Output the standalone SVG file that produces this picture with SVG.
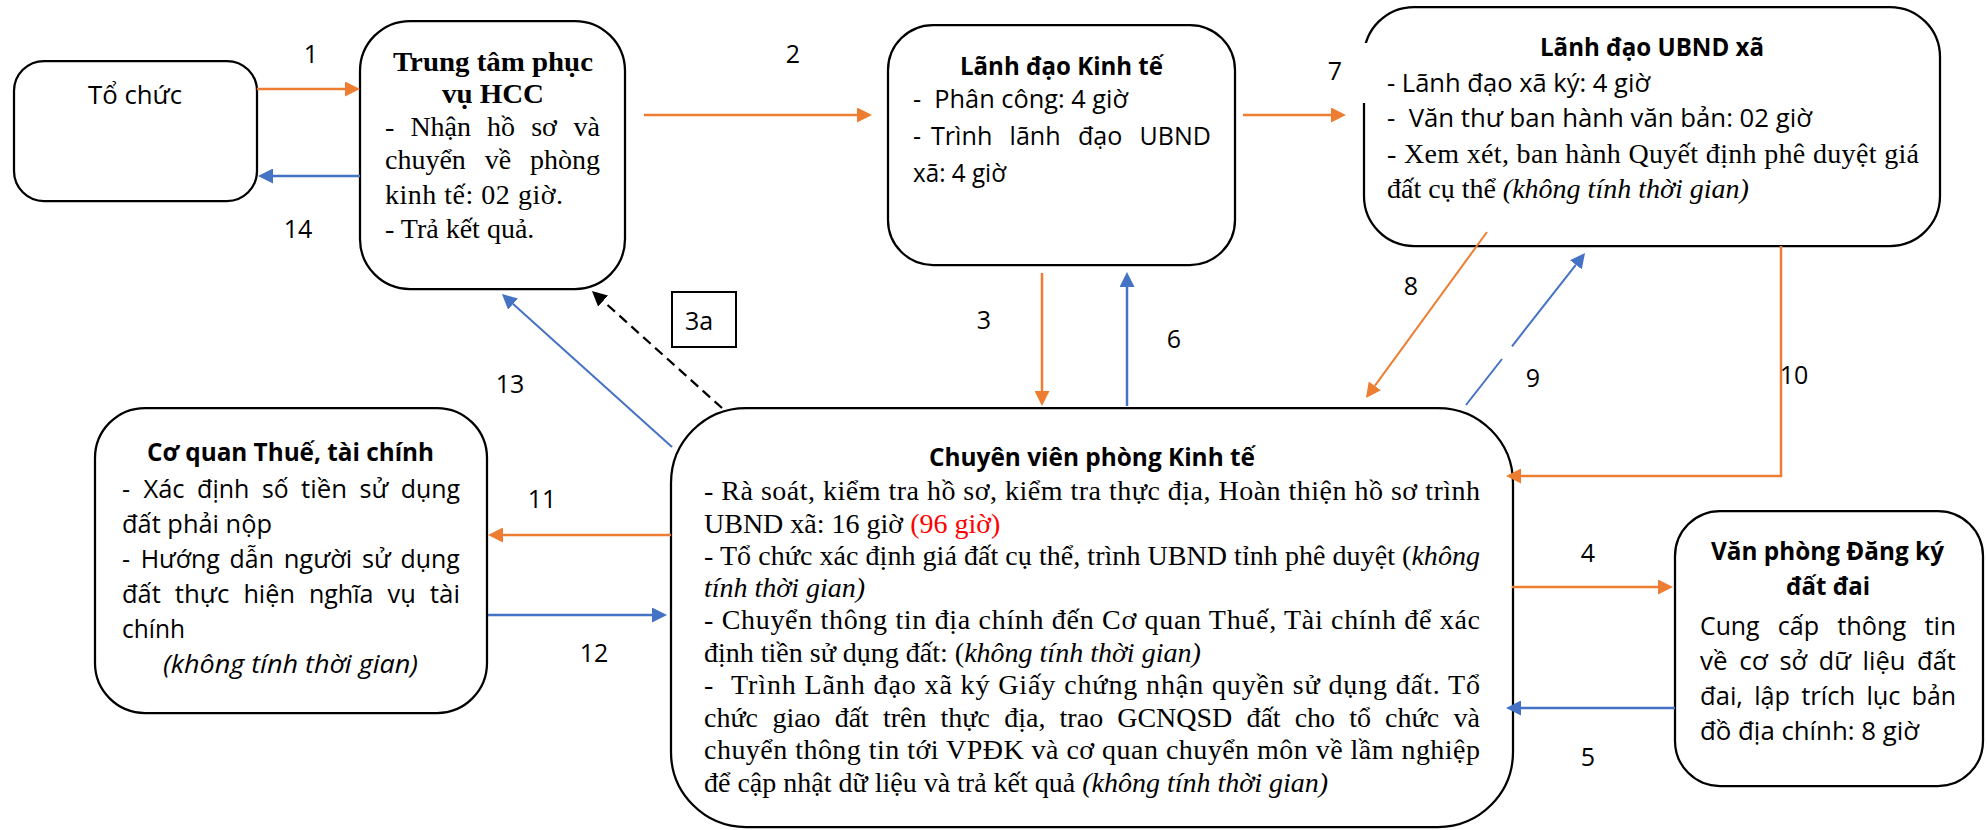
<svg xmlns="http://www.w3.org/2000/svg" width="1987" height="830" viewBox="0 0 1987 830">
<style>
.box{fill:#fff;stroke:#000;stroke-width:2.25}
.c{font-family:"Open Sans","Noto Sans",sans-serif;font-size:25px;fill:#000}
.cb{font-family:"Open Sans","Noto Sans",sans-serif;font-size:25px;font-weight:bold;fill:#000}
.t{font-family:"Liberation Serif","Times New Roman",serif;font-size:28px;fill:#000}
.tb{font-family:"Liberation Serif","Times New Roman",serif;font-size:28px;font-weight:bold;fill:#000}
.it{font-style:italic}
.red{fill:#FF0000}
.lbl{font-family:"Open Sans","Noto Sans",sans-serif;font-size:25px;fill:#000;text-anchor:middle}
.o{stroke:#ED7D31;stroke-width:2.5;fill:none}
.b{stroke:#4472C4;stroke-width:2.5;fill:none}
.k{stroke:#000;stroke-width:2.25;fill:none;stroke-dasharray:10 6}
</style>
<defs>
<marker id="ao" markerUnits="userSpaceOnUse" markerWidth="15" markerHeight="15" viewBox="0 0 15 15" refX="0" refY="7.5" orient="auto"><path d="M0,0 L15,7.5 L0,15 z" fill="#ED7D31"/></marker>
<marker id="ab" markerUnits="userSpaceOnUse" markerWidth="15" markerHeight="15" viewBox="0 0 15 15" refX="0" refY="7.5" orient="auto"><path d="M0,0 L15,7.5 L0,15 z" fill="#4472C4"/></marker>
<marker id="ak" markerUnits="userSpaceOnUse" markerWidth="15" markerHeight="15" viewBox="0 0 15 15" refX="0" refY="7.5" orient="auto"><path d="M0,0 L15,7.5 L0,15 z" fill="#000"/></marker>
</defs>
<rect width="1987" height="830" fill="#fff"/>

<g id="to-chuc">
<rect class="box" x="14" y="61" width="243" height="140" rx="30"/>
<text class="c" x="88" y="104" textLength="94" lengthAdjust="spacingAndGlyphs">Tổ chức</text>
</g>

<g id="trung-tam">
<rect class="box" x="360" y="21" width="265" height="268" rx="50"/>
<text class="tb" x="393" y="71" textLength="200" lengthAdjust="spacingAndGlyphs">Trung tâm phục</text>
<text class="tb" x="442" y="103" textLength="102" lengthAdjust="spacingAndGlyphs">vụ HCC</text>
<text class="t" x="385" y="136">-</text>
<text class="t" x="410.4" y="136">Nhận</text>
<text class="t" x="487.1" y="136">hồ</text>
<text class="t" x="531.2" y="136">sơ</text>
<text class="t" x="573.6" y="136">và</text>
<text class="t" x="385" y="169">chuyển</text>
<text class="t" x="484.7" y="169">về</text>
<text class="t" x="530" y="169">phòng</text>
<text class="t" x="385" y="204" textLength="178" lengthAdjust="spacing">kinh tế: 02 giờ.</text>
<text class="t" x="385" y="238">- Trả kết quả.</text>
</g>

<g id="lanh-dao-kinh-te">
<rect class="box" x="888" y="25" width="347" height="240" rx="45"/>
<text class="cb" x="960" y="75" textLength="203" lengthAdjust="spacingAndGlyphs">Lãnh đạo Kinh tế</text>
<text class="c" x="913" y="108" textLength="215" lengthAdjust="spacingAndGlyphs">-&#160; Phân công: 4 giờ</text>
<text class="c" x="913" y="145">-</text>
<text class="c" x="931" y="145" textLength="61.3" lengthAdjust="spacingAndGlyphs">Trình</text>
<text class="c" x="1009.6" y="145" textLength="51" lengthAdjust="spacingAndGlyphs">lãnh</text>
<text class="c" x="1077.9" y="145" textLength="44.4" lengthAdjust="spacingAndGlyphs">đạo</text>
<text class="c" x="1139.6" y="145" textLength="71.3" lengthAdjust="spacingAndGlyphs">UBND</text>
<text class="c" x="913" y="182" textLength="93" lengthAdjust="spacingAndGlyphs">xã: 4 giờ</text>
</g>

<g id="lanh-dao-ubnd">
<rect class="box" x="1364" y="7" width="576" height="239" rx="50"/>
<rect x="1360" y="43" width="8" height="60" fill="#fff"/>
<text class="cb" x="1540" y="56" textLength="224" lengthAdjust="spacingAndGlyphs">Lãnh đạo UBND xã</text>
<text class="c" x="1387" y="92" textLength="263" lengthAdjust="spacingAndGlyphs">- Lãnh đạo xã ký: 4 giờ</text>
<text class="c" x="1387" y="127" textLength="425" lengthAdjust="spacingAndGlyphs">-&#160; Văn thư ban hành văn bản: 02 giờ</text>
<text class="t" x="1387" y="163" textLength="532" lengthAdjust="spacing">- Xem xét, ban hành Quyết định phê duyệt giá</text>
<text class="t" x="1387" y="198">đất cụ thể <tspan class="it">(không tính thời gian)</tspan></text>
</g>

<g id="co-quan-thue">
<rect class="box" x="95" y="408" width="392" height="305" rx="50"/>
<text class="cb" x="147" y="461" textLength="287" lengthAdjust="spacingAndGlyphs">Cơ quan Thuế, tài chính</text>
<text class="c" x="122" y="498">-</text>
<text class="c" x="143.4" y="498" textLength="41.2" lengthAdjust="spacingAndGlyphs">Xác</text>
<text class="c" x="197.1" y="498" textLength="52.3" lengthAdjust="spacingAndGlyphs">định</text>
<text class="c" x="261.9" y="498" textLength="26.6" lengthAdjust="spacingAndGlyphs">số</text>
<text class="c" x="301" y="498" textLength="46" lengthAdjust="spacingAndGlyphs">tiền</text>
<text class="c" x="359.5" y="498" textLength="28.7" lengthAdjust="spacingAndGlyphs">sử</text>
<text class="c" x="400.7" y="498" textLength="59.3" lengthAdjust="spacingAndGlyphs">dụng</text>
<text class="c" x="122" y="533" textLength="150" lengthAdjust="spacingAndGlyphs">đất phải nộp</text>
<text class="c" x="122" y="568">-</text>
<text class="c" x="140.7" y="568" textLength="79.1" lengthAdjust="spacingAndGlyphs">Hướng</text>
<text class="c" x="229.6" y="568" textLength="44.3" lengthAdjust="spacingAndGlyphs">dẫn</text>
<text class="c" x="283.7" y="568" textLength="68.6" lengthAdjust="spacingAndGlyphs">người</text>
<text class="c" x="362.1" y="568" textLength="28.7" lengthAdjust="spacingAndGlyphs">sử</text>
<text class="c" x="400.6" y="568" textLength="59.3" lengthAdjust="spacingAndGlyphs">dụng</text>
<text class="c" x="122" y="603" textLength="38.8" lengthAdjust="spacingAndGlyphs">đất</text>
<text class="c" x="174.8" y="603" textLength="54.6" lengthAdjust="spacingAndGlyphs">thực</text>
<text class="c" x="243.4" y="603" textLength="51.5" lengthAdjust="spacingAndGlyphs">hiện</text>
<text class="c" x="308.9" y="603" textLength="64.6" lengthAdjust="spacingAndGlyphs">nghĩa</text>
<text class="c" x="387.5" y="603" textLength="28.3" lengthAdjust="spacingAndGlyphs">vụ</text>
<text class="c" x="429.8" y="603" textLength="30.2" lengthAdjust="spacingAndGlyphs">tài</text>
<text class="c" x="122" y="638" textLength="63" lengthAdjust="spacingAndGlyphs">chính</text>
<text class="c it" x="163" y="673" textLength="255" lengthAdjust="spacingAndGlyphs">(không tính thời gian)</text>
</g>

<g id="chuyen-vien">
<rect class="box" x="671" y="408" width="842" height="419" rx="75"/>
<text class="cb" x="929" y="466" textLength="326" lengthAdjust="spacingAndGlyphs">Chuyên viên phòng Kinh tế</text>
<text class="t" x="704" y="500" textLength="776" lengthAdjust="spacing">- Rà soát, kiểm tra hồ sơ, kiểm tra thực địa, Hoàn thiện hồ sơ trình</text>
<text class="t" x="704" y="533">UBND xã: 16 giờ <tspan class="red">(96 giờ)</tspan></text>
<text class="t" x="704" y="565" textLength="776" lengthAdjust="spacing">- Tổ chức xác định giá đất cụ thể, trình UBND tỉnh phê duyệt (<tspan class="it">không</tspan></text>
<text class="t it" x="704" y="597">tính thời gian)</text>
<text class="t" x="704" y="629" textLength="776" lengthAdjust="spacing">- Chuyển thông tin địa chính đến Cơ quan Thuế, Tài chính để xác</text>
<text class="t" x="704" y="662">định tiền sử dụng đất: (<tspan class="it">không tính thời gian)</tspan></text>
<text class="t" x="704" y="694">-</text>
<text class="t" x="731" y="694" textLength="749" lengthAdjust="spacing">Trình Lãnh đạo xã ký Giấy chứng nhận quyền sử dụng đất. Tổ</text>
<text class="t" x="704" y="727">chức</text>
<text class="t" x="772.4" y="727">giao</text>
<text class="t" x="834.7" y="727">đất</text>
<text class="t" x="883" y="727">trên</text>
<text class="t" x="940.6" y="727">thực</text>
<text class="t" x="1004.3" y="727">địa,</text>
<text class="t" x="1059.6" y="727">trao</text>
<text class="t" x="1117.2" y="727">GCNQSD</text>
<text class="t" x="1246.4" y="727">đất</text>
<text class="t" x="1294.7" y="727">cho</text>
<text class="t" x="1349.2" y="727">tổ</text>
<text class="t" x="1385.1" y="727">chức</text>
<text class="t" x="1453.5" y="727">và</text>
<text class="t" x="704" y="759" textLength="776" lengthAdjust="spacing">chuyển thông tin tới VPĐK và cơ quan chuyển môn về lầm nghiệp</text>
<text class="t" x="704" y="792">để cập nhật dữ liệu và trả kết quả <tspan class="it">(không tính thời gian)</tspan></text>
</g>

<g id="van-phong-dang-ky">
<rect class="box" x="1675" y="511" width="308" height="275" rx="45"/>
<text class="cb" x="1711" y="560" textLength="233" lengthAdjust="spacingAndGlyphs">Văn phòng Đăng ký</text>
<text class="cb" x="1786" y="595" textLength="84" lengthAdjust="spacingAndGlyphs">đất đai</text>
<text class="c" x="1700" y="635" textLength="59.6" lengthAdjust="spacingAndGlyphs">Cung</text>
<text class="c" x="1777.7" y="635" textLength="41.4" lengthAdjust="spacingAndGlyphs">cấp</text>
<text class="c" x="1837.2" y="635" textLength="69.1" lengthAdjust="spacingAndGlyphs">thông</text>
<text class="c" x="1924.4" y="635" textLength="31.6" lengthAdjust="spacingAndGlyphs">tin</text>
<text class="c" x="1700" y="670" textLength="27.6" lengthAdjust="spacingAndGlyphs">về</text>
<text class="c" x="1739.3" y="670" textLength="28.5" lengthAdjust="spacingAndGlyphs">cơ</text>
<text class="c" x="1779.5" y="670" textLength="27.6" lengthAdjust="spacingAndGlyphs">sở</text>
<text class="c" x="1818.8" y="670" textLength="32" lengthAdjust="spacingAndGlyphs">dữ</text>
<text class="c" x="1862.5" y="670" textLength="42.9" lengthAdjust="spacingAndGlyphs">liệu</text>
<text class="c" x="1917.1" y="670" textLength="38.8" lengthAdjust="spacingAndGlyphs">đất</text>
<text class="c" x="1700" y="705" textLength="43" lengthAdjust="spacingAndGlyphs">đai,</text>
<text class="c" x="1754.2" y="705" textLength="35.8" lengthAdjust="spacingAndGlyphs">lập</text>
<text class="c" x="1801.2" y="705" textLength="54" lengthAdjust="spacingAndGlyphs">trích</text>
<text class="c" x="1866.4" y="705" textLength="34.1" lengthAdjust="spacingAndGlyphs">lục</text>
<text class="c" x="1911.7" y="705" textLength="44.3" lengthAdjust="spacingAndGlyphs">bản</text>
<text class="c" x="1700" y="740" textLength="219" lengthAdjust="spacingAndGlyphs">đồ địa chính: 8 giờ</text>
</g>

<g id="connectors">
<line class="o" x1="257" y1="89" x2="345" y2="89" marker-end="url(#ao)"/>
<line class="b" x1="360" y1="176" x2="273" y2="176" marker-end="url(#ab)"/>
<line class="o" x1="644" y1="115" x2="857" y2="115" marker-end="url(#ao)"/>
<line class="o" x1="1243" y1="115" x2="1331" y2="115" marker-end="url(#ao)"/>
<line class="o" x1="1042" y1="273" x2="1042" y2="391" marker-end="url(#ao)"/>
<line class="b" x1="1127" y1="406" x2="1127" y2="287" marker-end="url(#ab)"/>
<line class="o" style="stroke-width:2" x1="1487" y1="232" x2="1374.8" y2="385.9" marker-end="url(#ao)"/>
<line class="b" style="stroke-width:2" x1="1466" y1="405" x2="1502" y2="359"/>
<line class="b" style="stroke-width:2" x1="1512" y1="346.3" x2="1575.8" y2="264.8" marker-end="url(#ab)"/>
<polyline class="o" points="1781,246 1781,476 1521,476" marker-end="url(#ao)"/>
<line class="o" x1="1512" y1="587" x2="1658" y2="587" marker-end="url(#ao)"/>
<line class="b" x1="1675" y1="708" x2="1521" y2="708" marker-end="url(#ab)"/>
<line class="o" x1="671" y1="535" x2="503" y2="535" marker-end="url(#ao)"/>
<line class="b" x1="488" y1="615" x2="652" y2="615" marker-end="url(#ab)"/>
<line class="b" style="stroke-width:2" x1="672" y1="447" x2="513.1" y2="304" marker-end="url(#ab)"/>
<line class="k" x1="722" y1="408" x2="603.1" y2="301" marker-end="url(#ak)"/>
<rect x="672" y="292" width="64" height="55" fill="#fff" stroke="#000" stroke-width="2"/>
<text class="lbl" x="699" y="330">3a</text>
<text class="lbl" x="311" y="63">1</text>
<text class="lbl" x="793" y="63">2</text>
<text class="lbl" x="1335" y="80">7</text>
<text class="lbl" x="298" y="238">14</text>
<text class="lbl" x="984" y="329">3</text>
<text class="lbl" x="1174" y="348">6</text>
<text class="lbl" x="1411" y="295">8</text>
<text class="lbl" x="1533" y="387">9</text>
<text class="lbl" x="1794" y="384">10</text>
<text class="lbl" x="510" y="393">13</text>
<text class="lbl" x="542" y="508">11</text>
<text class="lbl" x="594" y="662">12</text>
<text class="lbl" x="1588" y="562">4</text>
<text class="lbl" x="1588" y="766">5</text>
</g>
</svg>
